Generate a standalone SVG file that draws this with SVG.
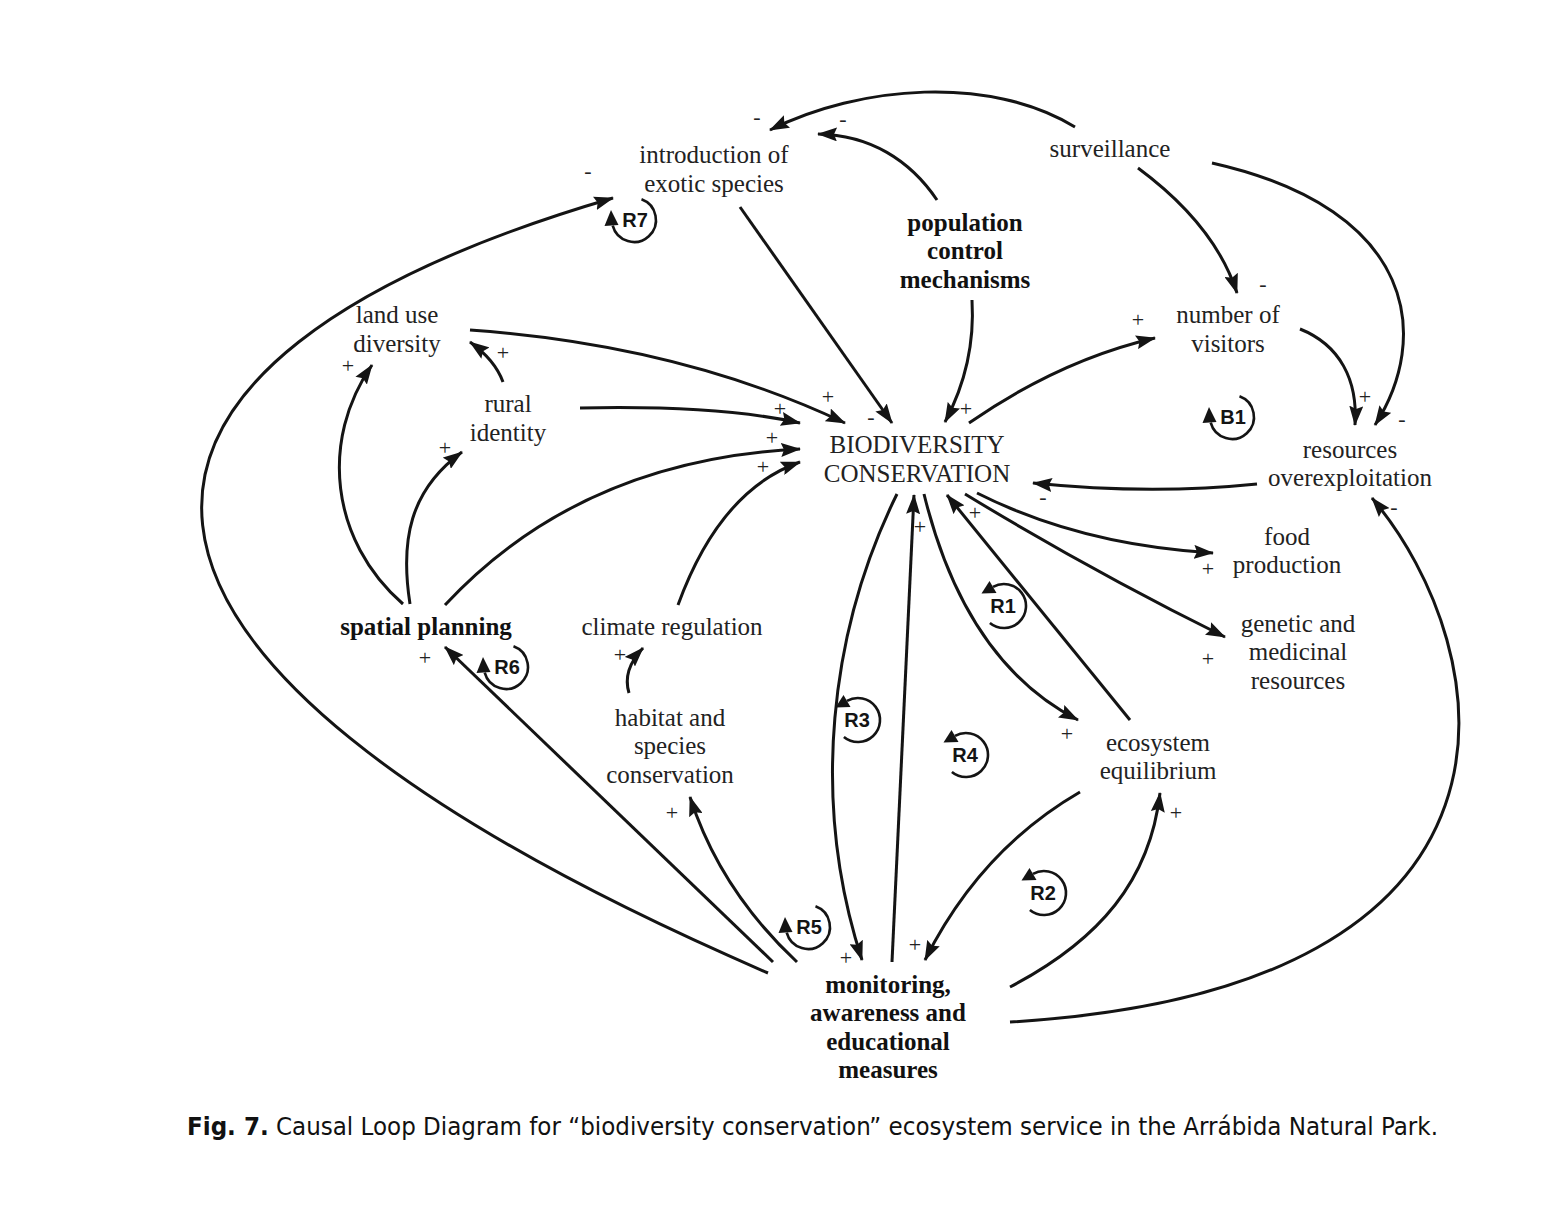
<svg xmlns="http://www.w3.org/2000/svg" xmlns:xlink="http://www.w3.org/1999/xlink" width="1546" height="1208" viewBox="0 0 1546 1208">
<style>
.n{font-family:"Liberation Serif","Times New Roman",serif;font-size:25px;fill:#222;text-anchor:middle}
.b{font-weight:bold;fill:#111}
.s{font-family:"Liberation Serif","Times New Roman",serif;font-size:22px;fill:#222;text-anchor:middle}
.c{fill:none;stroke:#141414;stroke-width:3;marker-end:url(#ah)}
.lp{fill:none;stroke:#141414;stroke-width:2.6}
.lt{font-family:"Liberation Sans",Arial,sans-serif;font-size:20px;font-weight:bold;fill:#141414;text-anchor:middle}
.cap{font-family:"DejaVu Sans Condensed","Liberation Sans",Arial,sans-serif;font-size:24px;fill:#111}
</style>
<defs>
<marker id="ah" viewBox="0 0 20 14" refX="19" refY="7" markerWidth="20" markerHeight="14" markerUnits="userSpaceOnUse" orient="auto">
<path d="M0,0 L20,7 L0,14 L3,7 z" fill="#141414"/>
</marker>
<g id="cw"><path class="lp" d="M7.5,-20.7 A22,22 0 1 1 -21.3,5.7"/><polygon points="-23,-10 -29.5,6 -15.5,5" fill="#141414"/></g>
<g id="ccw"><path class="lp" d="M-14.1,16.9 A22,22 0 1 0 -11,-19.05"/><polygon points="-22.5,-12.5 -7.5,-13 -14.5,-25" fill="#141414"/></g>
</defs>
<rect width="1546" height="1208" fill="#fff"/>

<g id="connectors">
<path class="c" d="M1075,127 C990,75 860,85 770,130"/>
<path class="c" d="M937,200 C910,160 870,135 818,134"/>
<path class="c" d="M740,207 L892,423"/>
<path class="c" d="M972,300 C975,350 962,390 945,422"/>
<path class="c" d="M969,423 Q1060,360 1155,338"/>
<path class="c" d="M1138,168 Q1215,225 1237,293"/>
<path class="c" d="M1212,163 C1420,210 1430,340 1375,425"/>
<path class="c" d="M1300,329 C1340,345 1358,380 1355,425"/>
<path class="c" d="M1257,484 Q1150,495 1033,483"/>
<path class="c" d="M470,330 Q680,345 845,423"/>
<path class="c" d="M580,408 Q720,405 800,423"/>
<path class="c" d="M445,605 Q580,460 800,449"/>
<path class="c" d="M678,605 Q720,490 800,462"/>
<path class="c" d="M503,382 Q495,360 470,342"/>
<path class="c" d="M403,604 C330,540 320,440 372,365"/>
<path class="c" d="M410,604 C400,540 410,490 462,452"/>
<path class="c" d="M629,693 Q622,670 643,648"/>
<path class="c" d="M977,493 Q1080,545 1213,553"/>
<path class="c" d="M965,494 Q1090,570 1225,637"/>
<path class="c" d="M924,494 C950,600 1000,680 1078,720"/>
<path class="c" d="M1130,720 L947,495"/>
<path class="c" d="M897,494 C830,630 810,800 862,960"/>
<path class="c" d="M892,962 L914,495"/>
<path class="c" d="M1080,792 Q980,850 925,960"/>
<path class="c" d="M1010,987 C1100,940 1150,880 1160,793"/>
<path class="c" d="M1010,1022 C1560,990 1500,650 1372,498"/>
<path class="c" d="M797,962 Q720,890 690,797"/>
<path class="c" d="M773,962 L445,647"/>
<path class="c" d="M768,973 C20,650 60,360 613,198"/>
</g>

<g id="signs">
<text class="s" x="757" y="124">-</text>
<text class="s" x="843" y="126">-</text>
<text class="s" x="588" y="178">-</text>
<text class="s" x="828" y="404">+</text>
<text class="s" x="871" y="424">-</text>
<text class="s" x="966" y="416">+</text>
<text class="s" x="780" y="416">+</text>
<text class="s" x="772" y="445">+</text>
<text class="s" x="763" y="474">+</text>
<text class="s" x="1138" y="327">+</text>
<text class="s" x="1263" y="291">-</text>
<text class="s" x="1365" y="404">+</text>
<text class="s" x="1402" y="426">-</text>
<text class="s" x="1043" y="504">-</text>
<text class="s" x="1394" y="514">-</text>
<text class="s" x="503" y="360">+</text>
<text class="s" x="348" y="373">+</text>
<text class="s" x="445" y="455">+</text>
<text class="s" x="620" y="662">+</text>
<text class="s" x="425" y="665">+</text>
<text class="s" x="672" y="820">+</text>
<text class="s" x="1208" y="576">+</text>
<text class="s" x="1208" y="666">+</text>
<text class="s" x="1067" y="741">+</text>
<text class="s" x="975" y="520">+</text>
<text class="s" x="920" y="534">+</text>
<text class="s" x="846" y="965">+</text>
<text class="s" x="915" y="952">+</text>
<text class="s" x="1176" y="820">+</text>
</g>

<g id="loops">
<g id="loop-R7"><use xlink:href="#cw" href="#cw" transform="translate(634,220)"/><text class="lt" x="635" y="227">R7</text></g>
<g id="loop-B1"><use xlink:href="#cw" href="#cw" transform="translate(1232,417)"/><text class="lt" x="1233" y="424">B1</text></g>
<g id="loop-R6"><use xlink:href="#cw" href="#cw" transform="translate(506,667)"/><text class="lt" x="507" y="674">R6</text></g>
<g id="loop-R5"><use xlink:href="#cw" href="#cw" transform="translate(808,927)"/><text class="lt" x="809" y="934">R5</text></g>
<g id="loop-R1"><use xlink:href="#ccw" href="#ccw" transform="translate(1004,606)"/><text class="lt" x="1003" y="613">R1</text></g>
<g id="loop-R3"><use xlink:href="#ccw" href="#ccw" transform="translate(858,720)"/><text class="lt" x="857" y="727">R3</text></g>
<g id="loop-R4"><use xlink:href="#ccw" href="#ccw" transform="translate(966,755)"/><text class="lt" x="965" y="762">R4</text></g>
<g id="loop-R2"><use xlink:href="#ccw" href="#ccw" transform="translate(1044,893)"/><text class="lt" x="1043" y="900">R2</text></g>
</g>

<g id="node-exotic"><text class="n" x="714" y="163">introduction of</text><text class="n" x="714" y="192">exotic species</text></g>
<g id="node-surveillance"><text class="n" x="1110" y="157">surveillance</text></g>
<g id="node-population"><text class="n b" x="965" y="231">population</text><text class="n b" x="965" y="259">control</text><text class="n b" x="965" y="288">mechanisms</text></g>
<g id="node-landuse"><text class="n" x="397" y="323">land use</text><text class="n" x="397" y="352">diversity</text></g>
<g id="node-rural"><text class="n" x="508" y="412">rural</text><text class="n" x="508" y="441">identity</text></g>
<g id="node-visitors"><text class="n" x="1228" y="323">number of</text><text class="n" x="1228" y="352">visitors</text></g>
<g id="node-biodiversity"><text class="n" x="917" y="453">BIODIVERSITY</text><text class="n" x="917" y="482">CONSERVATION</text></g>
<g id="node-resources"><text class="n" x="1350" y="458">resources</text><text class="n" x="1350" y="486">overexploitation</text></g>
<g id="node-food"><text class="n" x="1287" y="545">food</text><text class="n" x="1287" y="573">production</text></g>
<g id="node-spatial"><text class="n b" x="426" y="635">spatial planning</text></g>
<g id="node-climate"><text class="n" x="672" y="635">climate regulation</text></g>
<g id="node-genetic"><text class="n" x="1298" y="632">genetic and</text><text class="n" x="1298" y="660">medicinal</text><text class="n" x="1298" y="689">resources</text></g>
<g id="node-habitat"><text class="n" x="670" y="726">habitat and</text><text class="n" x="670" y="754">species</text><text class="n" x="670" y="783">conservation</text></g>
<g id="node-ecosystem"><text class="n" x="1158" y="751">ecosystem</text><text class="n" x="1158" y="779">equilibrium</text></g>
<g id="node-monitoring"><text class="n b" x="888" y="993">monitoring,</text><text class="n b" x="888" y="1021">awareness and</text><text class="n b" x="888" y="1050">educational</text><text class="n b" x="888" y="1078">measures</text></g>

<text class="cap" x="187" y="1135" textLength="1251" lengthAdjust="spacingAndGlyphs"><tspan font-weight="bold">Fig. 7.</tspan> Causal Loop Diagram for “biodiversity conservation” ecosystem service in the Arrábida Natural Park.</text>
</svg>
